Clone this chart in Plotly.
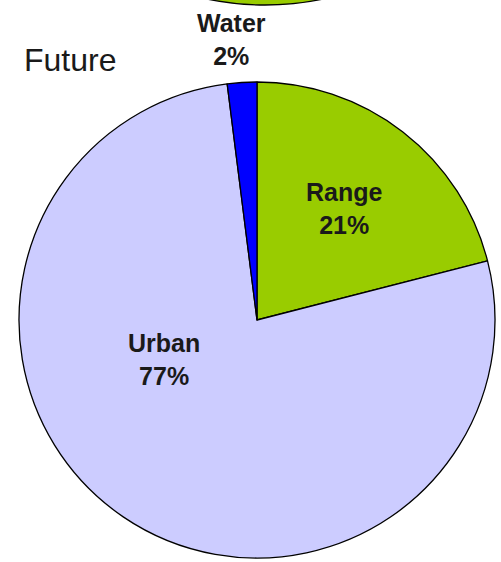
import plotly.graph_objects as go

# Data
categories = ["Range", "Urban", "Water"]
values = [21, 77, 2]
colors = ["#99CC00", "#CCCCFF", "#0000FF"]
title_text = "Future"

W, H = 501, 562
cx, cy, r = 257, 320, 238

fig = go.Figure()
fig.add_trace(go.Pie(
    labels=categories,
    values=values,
    sort=False,
    direction="clockwise",
    rotation=0,
    textinfo="none",
    hoverinfo="label+percent",
    marker=dict(colors=colors, line=dict(color="#000000", width=1.3)),
    domain=dict(x=[(cx - r) / W, (cx + r) / W], y=[1 - (cy + r) / H, 1 - (cy - r) / H]),
    showlegend=False,
))

# label positions (pixels)
label_pos = {"Range": (344, 209), "Urban": (164, 359), "Water": (231, 40)}
total = sum(values)
annotations = []
for cat, v in zip(categories, values):
    px, py = label_pos[cat]
    pct = round(100 * v / total)
    annotations.append(dict(
        x=px / W, y=1 - py / H, xref="paper", yref="paper",
        text=f"<b>{cat}</b><br><b>{pct}%</b>",
        showarrow=False, xanchor="center", yanchor="middle",
        font=dict(family="Liberation Sans, Arial, sans-serif", size=25, color="#1a1a1a"),
    ))
annotations.append(dict(
    x=22 / W, y=1 - 60 / H, xref="paper", yref="paper",
    text=title_text, showarrow=False, xanchor="left", yanchor="middle",
    font=dict(family="Liberation Sans, Arial, sans-serif", size=32, color="#1a1a1a"),
))

# partial view of neighbouring (cut-off) chart at top
ex, ey_bottom, a, b = 265, 5, 260, 237
fig.add_shape(
    type="circle", xref="paper", yref="paper",
    x0=(ex - a) / W, x1=(ex + a) / W,
    y0=1 - ey_bottom / H, y1=1 - (ey_bottom - 2 * b) / H,
    fillcolor="#99CC00", line=dict(color="#000000", width=1.3), layer="below",
)

fig.update_layout(
    width=W, height=H,
    margin=dict(l=0, r=0, t=0, b=0),
    paper_bgcolor="#FFFFFF",
    plot_bgcolor="#FFFFFF",
    annotations=annotations,
)

fig.write_html("out.html")
